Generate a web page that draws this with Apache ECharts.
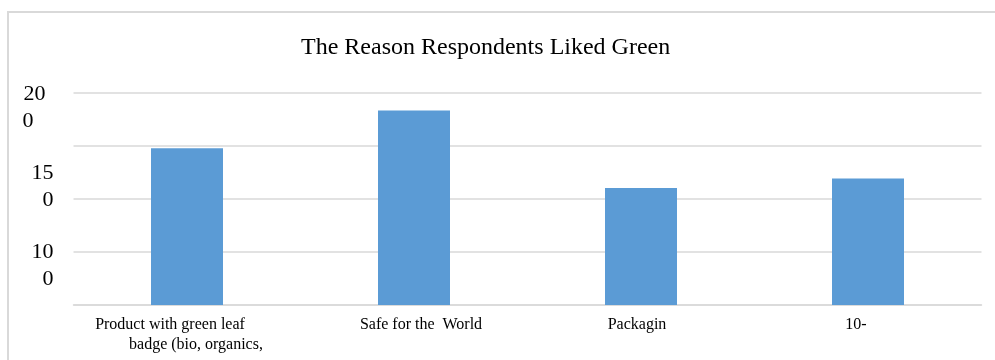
<!DOCTYPE html>
<html>
<head>
<meta charset="utf-8">
<script src="https://cdn.jsdelivr.net/npm/echarts@6/dist/echarts.min.js"></script>
<style>
  html, body { margin: 0; background: #fff; overflow: hidden; }
  #frame { position: absolute; left: 7px; top: 11px; width: 1100px; height: 400px;
    border-left: 2px solid #d9d9d9; border-top: 2px solid #d9d9d9; }
  #main { position: absolute; left: 0; top: 0; width: 995px; height: 360px; }
</style>
</head>
<body>
<div id="frame"></div>
<div id="main"></div>
<script>
const categories = ['Product with green leaf\nbadge (bio, organics,', 'Safe for the  World', 'Packagin', '10-']
const values = [174, 198, 149, 155]
const tickValues = [100, 150, 200]
const tickLabels = ['10\n0', '15\n0', '20\n0']

const serif = '"Liberation Serif", "DejaVu Serif", serif'

const chart = echarts.init(document.getElementById('main'))

const option = {
  title: {
    text: 'The Reason Respondents Liked Green',
    left: 301,
    top: 36,
    padding: 0,
    textStyle: {fontFamily: serif, fontSize: 24, fontWeight: 'normal', color: '#000'}
  },
  grid: {left: 73.5, right: 13.5, top: 93, bottom: 55},
  xAxis: {
    type: 'category',
    data: categories,
    axisLine: {lineStyle: {color: '#d9d9d9', width: 1.5}},
    axisTick: {show: false},
    axisLabel: {
      interval: 0,
      margin: 10,
      color: '#000',
      fontFamily: serif,
      fontSize: 16,
      lineHeight: 20,
      formatter: (v, i) => {
        if (i === 0) {
          const parts = v.split('\n')
          return '{a|' + parts[0] + '}\n{b|' + parts[1] + '}'
        }
        return ['', '{c|', '{d|', '{e|'][i] + v + '}'
      },
      rich: {
        a: {fontFamily: serif, fontSize: 16, lineHeight: 20, color: '#000', padding: [0, 34, 0, 0]},
        b: {fontFamily: serif, fontSize: 16, lineHeight: 20, color: '#000', padding: [0, 0, 0, 18]},
        c: {fontFamily: serif, fontSize: 16, lineHeight: 20, color: '#000', padding: [0, 0, 0, 14]},
        d: {fontFamily: serif, fontSize: 16, lineHeight: 20, color: '#000', padding: [0, 8, 0, 0]},
        e: {fontFamily: serif, fontSize: 16, lineHeight: 20, color: '#000', padding: [0, 24, 0, 0]}
      }
    }
  },
  yAxis: [
    {
      type: 'value',
      min: 75,
      max: 209,
      interval: 25,
      axisLine: {show: false},
      axisTick: {show: false},
      splitLine: {show: false},
      axisLabel: {
        margin: 20,
        align: 'right',
        showMaxLabel: false,
        formatter: (v) => {
          const k = tickValues.indexOf(v)
          if (k < 0) return ''
          const parts = tickLabels[k].split('\n')
          if (v === 200) return '{t1|' + parts[0] + '}\n{t2|' + parts[1] + '}'
          return '{n|' + parts[0] + '}\n{n|' + parts[1] + '}'
        },
        rich: {
          n: {fontFamily: serif, fontSize: 22, lineHeight: 27, color: '#000'},
          t1: {fontFamily: serif, fontSize: 22, lineHeight: 27, color: '#000', padding: [0, 8, 0, 0]},
          t2: {fontFamily: serif, fontSize: 22, lineHeight: 27, color: '#000', padding: [0, 20, 0, 0]}
        }
      }
    },
    {
      type: 'value',
      position: 'left',
      min: 0,
      max: 4,
      interval: 1,
      axisLine: {show: false},
      axisTick: {show: false},
      axisLabel: {show: false},
      splitLine: {lineStyle: {color: '#d9d9d9', width: 1.5}}
    }
  ],
  series: [
    {
      type: 'bar',
      yAxisIndex: 0,
      data: values,
      barWidth: 72,
      itemStyle: {color: '#5b9bd5'}
    }
  ]
}

chart.setOption(option)
</script>
</body>
</html>
